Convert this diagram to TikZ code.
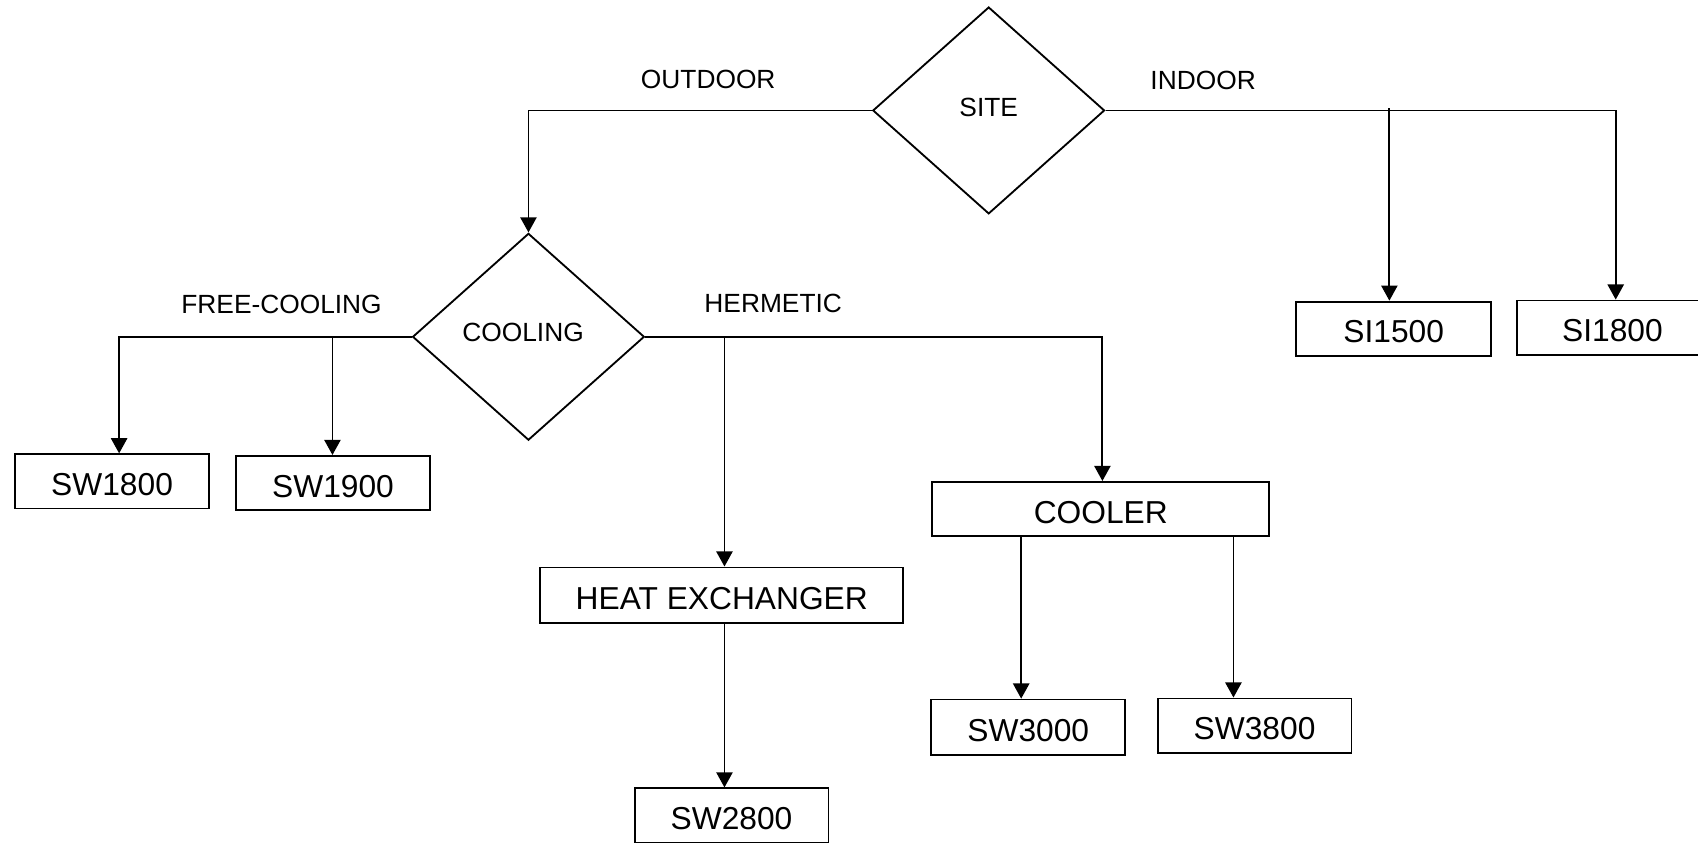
\documentclass[tikz,border=0pt]{standalone}
\usepackage{fontspec}
\setmainfont{Liberation Sans}
\usetikzlibrary{shapes.geometric,arrows.meta}
\begin{document}
\begin{tikzpicture}[x=1pt,y=-1pt,
  box/.style={draw,line width=1.7pt,inner sep=0pt,minimum height=50pt,text depth=0pt,text height=26pt,font=\fontsize{29.3}{33}\selectfont},
  dia/.style={draw,diamond,line width=1.7pt,inner sep=0pt,minimum width=214pt,minimum height=191pt},
  lbl/.style={font=\fontsize{24.3}{28}\selectfont,inner sep=0pt},
  arr/.style={line width=1.7pt,-{Triangle[width=15pt,length=14pt]}}]
\useasboundingbox (0,0) rectangle (1568,778);
\clip (0,0) rectangle (1568,778);
% decision nodes
\node[dia] (site) at (913,102) {};
\node[lbl] (sitet) at (913,99) {SITE};
\node[dia] (cool) at (488,311) {};
\node[lbl] (coolt) at (483,307) {COOLING};
% boxes
\node[box,minimum width=180pt] (si15) at (1287,303.5) {SI1500};
\node[box,minimum width=176pt] (si18) at (1489,302.5) {SI1800};
\node[box,minimum width=179pt] (sw18) at (103.5,444.5) {SW1800};
\node[box,minimum width=179pt] (sw19) at (307.5,446) {SW1900};
\node[box,minimum width=335pt,minimum height=51pt] (hx) at (666.5,549.5) {HEAT EXCHANGER};
\node[box,minimum width=311pt] (cooler) at (1016.5,470) {COOLER};
\node[box,minimum width=179pt,minimum height=51pt] (sw30) at (949.5,671.5) {SW3000};
\node[box,minimum width=179pt] (sw38) at (1158.5,670) {SW3800};
\node[box,minimum width=179pt] (sw28) at (675.5,753) {SW2800};
% labels
\node[lbl] (outdoor) at (654,73) {OUTDOOR};
\node[lbl] (indoor) at (1111,74) {INDOOR};
\node[lbl] (free) at (260,281) {FREE-COOLING};
\node[lbl] (herm) at (714,280) {HERMETIC};
% branch points
\coordinate (bsi18) at (1492,102);
\coordinate (bsi15) at (1283,100);
\coordinate (bsw18) at (110,311);
\coordinate (bsw19) at (307,311);
\coordinate (bcool) at (1018,311);
\coordinate (bhx) at (669,311);
\coordinate (bsw30) at (943,495);
\coordinate (bsw38) at (1139,495);
% connectors
\draw[arr] (site.west) -| (cool.north);
\draw[arr] (site.east) -- (bsi18) -- (bsi18 |- si18.north);
\draw[arr] (bsi15) -- (bsi15 |- si15.north);
\draw[arr] (cool.west) -- (bsw18) -- (bsw18 |- sw18.north);
\draw[arr] (bsw19) -- (bsw19 |- sw19.north);
\draw[arr] (cool.east) -- (bcool) -- (bcool |- cooler.north);
\draw[arr] (bhx) -- (bhx |- hx.north);
\draw[arr] (bhx |- hx.south) -- (bhx |- sw28.north);
\draw[arr] (bsw30) -- (bsw30 |- sw30.north);
\draw[arr] (bsw38) -- (bsw38 |- sw38.north);
\end{tikzpicture}
\end{document}
